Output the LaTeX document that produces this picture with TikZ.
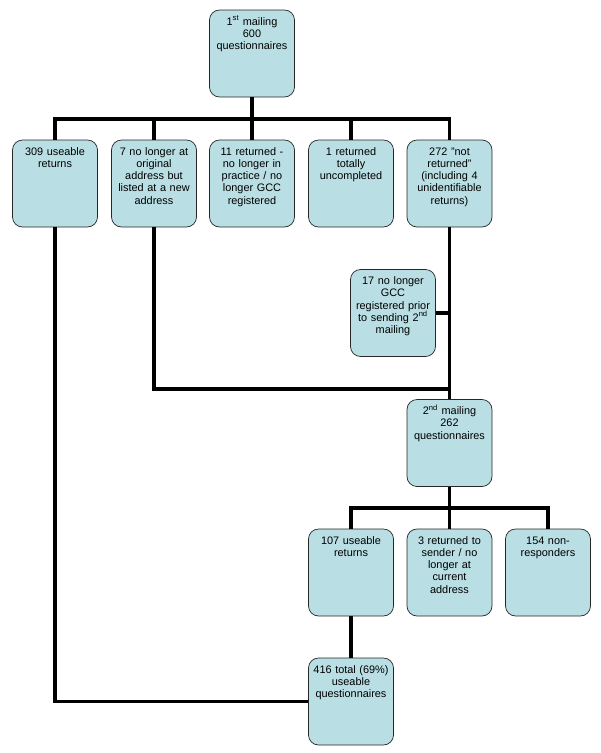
\documentclass[tikz,border=0pt]{standalone}
\usepackage{fontspec}
\setmainfont{Liberation Sans}
\usepackage{tikz}
\definecolor{paleteal}{RGB}{185,223,228}
\usetikzlibrary{positioning}
\tikzstyle{stage}=[draw=black!85,line width=0.6pt,rounded corners=0.3cm,fill=paleteal,
  text width=2.5cm,align=center,inner xsep=0pt,inner ysep=0pt,minimum width=2.55cm,
  text height=0.45cm,text depth=2.16cm,font=\fontsize{9.3pt}{10.5pt}\selectfont]
\tikzstyle{link}=[line width=2.6pt]

\begin{document}
\begin{tikzpicture}
        \useasboundingbox (0,0) rectangle (18,-22.59);

        \node[stage] at (7.56,-1.605) (mail1) {1\textsuperscript{st} mailing\\600\\questionnaires};

        \node[stage] at (1.65,-5.505) (useable1) {309 useable\\returns};
        \node[stage] at (4.62,-5.505) (moved) {7 no longer at\\original\\address but\\listed at a new\\address};
        \node[stage] at (7.56,-5.505) (retired) {11 returned -\\no longer in\\practice / no\\longer GCC\\registered};
        \node[stage] at (10.53,-5.505) (blank) {1 returned\\totally\\uncompleted};
        \node[stage] at (13.485,-5.505) (notret) {272 "not\\returned"\\(including 4\\unidentifiable\\returns)};

        \node[stage] at (11.79,-9.39) (unreg) {17 no longer\\GCC\\registered prior\\to sending 2\textsuperscript{nd}\\mailing};

        \node[stage] at (13.485,-13.29) (mail2) {2\textsuperscript{nd} mailing\\262\\questionnaires};

        \node[stage] at (10.53,-17.175) (useable2) {107 useable\\returns};
        \node[stage] at (13.485,-17.175) (sender) {3 returned to\\sender / no\\longer at\\current\\address};
        \node[stage] at (16.44,-17.175) (nonresp) {154 non-\\responders};

        \node[stage] at (10.53,-21.045) (total) {416 total (69\%)\\useable\\questionnaires};

        \coordinate (bus1) at (7.56,-3.57);
        \coordinate (merge) at (13.485,-11.67);
        \coordinate (bus2) at (13.485,-15.24);

        \draw[link] (mail1) -- (bus1);
        \draw[link] (useable1.north) |- (bus1) -| (notret.north);
        \draw[link] (moved.north) -- (moved |- bus1);
        \draw[link] (retired.north) -- (bus1);
        \draw[link] (blank.north) -- (blank |- bus1);
        \draw[link] (notret) -- (mail2);
        \draw[link] (unreg.east) -- (unreg -| notret);
        \draw[link] (moved.south) |- (merge);
        \draw[link] (mail2) -- (bus2);
        \draw[link] (useable2.north) |- (bus2) -| (nonresp.north);
        \draw[link] (sender.north) -- (bus2);
        \draw[link] (useable2) -- (total);
        \draw[link] (useable1.south) |- (total.west);
      \end{tikzpicture}
\end{document}
